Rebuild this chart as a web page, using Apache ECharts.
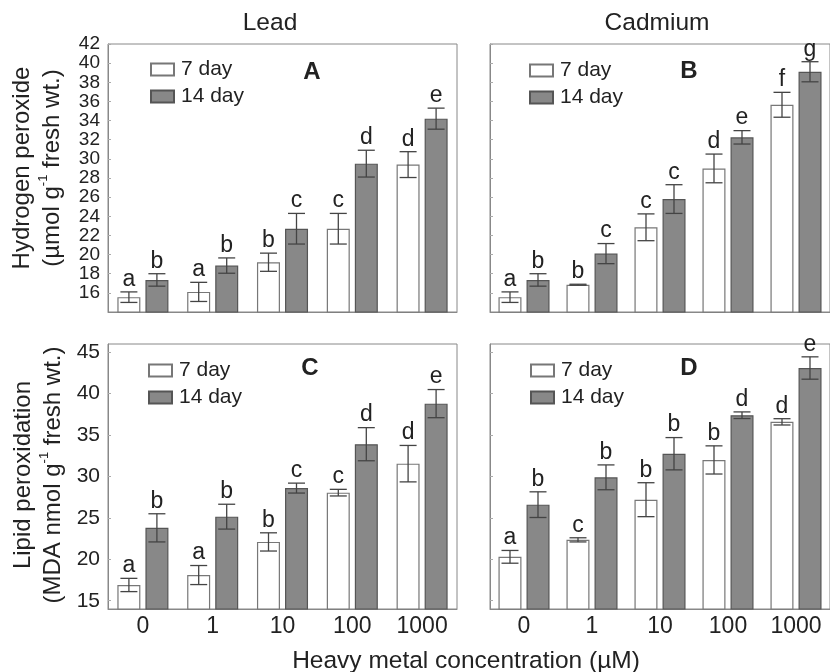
<!DOCTYPE html>
<html>
<head>
<meta charset="utf-8">
<script src="https://cdn.jsdelivr.net/npm/echarts@6/dist/echarts.min.js"></script>
<style>html,body{margin:0;padding:0;background:#fff}#c{width:830px;height:672px}</style>
</head>
<body>
<div id="c"></div>
<script>
// ---- data ----
const categories = ['0', '1', '10', '100', '1000'];

// Panel A: Hydrogen peroxide, Lead
const h2o2LeadDay7 = [15.55, 16.1, 19.2, 22.7, 29.4];
const h2o2LeadDay7Err = [0.55, 1.0, 0.95, 1.6, 1.35];
const h2o2LeadDay7Letters = ['a', 'a', 'b', 'c', 'd'];
const h2o2LeadDay14 = [17.35, 18.85, 22.7, 29.5, 34.2];
const h2o2LeadDay14Err = [0.65, 0.8, 1.6, 1.4, 1.1];
const h2o2LeadDay14Letters = ['b', 'b', 'c', 'd', 'e'];

// Panel B: Hydrogen peroxide, Cadmium
const h2o2CdDay7 = [15.55, 16.85, 22.85, 29.0, 35.65];
const h2o2CdDay7Err = [0.55, 0.05, 1.4, 1.5, 1.3];
const h2o2CdDay7Letters = ['a', 'b', 'c', 'd', 'f'];
const h2o2CdDay14 = [17.35, 20.1, 25.8, 32.25, 39.1];
const h2o2CdDay14Err = [0.65, 1.05, 1.5, 0.7, 1.05];
const h2o2CdDay14Letters = ['b', 'c', 'c', 'e', 'g'];

// Panel C: Lipid peroxidation, Lead
const mdaLeadDay7 = [16.9, 18.1, 22.1, 28.05, 31.55];
const mdaLeadDay7Err = [0.8, 1.15, 1.1, 0.4, 2.2];
const mdaLeadDay7Letters = ['a', 'a', 'b', 'c', 'd'];
const mdaLeadDay14 = [23.8, 25.15, 28.6, 33.9, 38.8];
const mdaLeadDay14Err = [1.7, 1.5, 0.6, 2.0, 1.7];
const mdaLeadDay14Letters = ['b', 'b', 'c', 'd', 'e'];

// Panel D: Lipid peroxidation, Cadmium
const mdaCdDay7 = [20.3, 22.35, 27.2, 32.0, 36.6];
const mdaCdDay7Err = [0.77, 0.25, 2.05, 1.7, 0.38];
const mdaCdDay7Letters = ['a', 'c', 'b', 'b', 'd'];
const mdaCdDay14 = [26.6, 29.9, 32.75, 37.4, 43.1];
const mdaCdDay14Err = [1.55, 1.5, 1.95, 0.4, 1.35];
const mdaCdDay14Letters = ['b', 'b', 'b', 'd', 'e'];

const h2o2Ticks = [16, 18, 20, 22, 24, 26, 28, 30, 32, 34, 36, 38, 40, 42];
const mdaTicks = [15, 20, 25, 30, 35, 40, 45];

// ---- styling ----
const FONT = '"Liberation Sans", Arial, Helvetica, sans-serif';
const TXT = '#222';
const BAR_W = 23;
const OFFSET = 14;

const chart = echarts.init(document.getElementById('c'));

const grids = [
  { left: 108, top: 44, width: 349, height: 268 },
  { left: 490, top: 44, width: 349, height: 268 },
  { left: 108, top: 344, width: 349, height: 265 },
  { left: 490, top: 344, width: 349, height: 265 }
].map(g => Object.assign({ show: true, borderColor: '#888', borderWidth: 1, containLabel: false }, g));

function xAxisFor(i, showLabels) {
  return {
    type: 'category', gridIndex: i, data: categories,
    axisLine: { show: true, lineStyle: { color: '#888' } },
    axisTick: { show: false },
    axisLabel: { show: showLabels, fontSize: 23, color: TXT, fontFamily: FONT, margin: 6 }
  };
}
function yAxisFor(i, min, max, ticks, showLabels, fs) {
  return {
    type: 'value', gridIndex: i, min: min, max: max,
    splitLine: { show: false },
    axisLine: { show: true, lineStyle: { color: '#888' } },
    axisTick: { show: true, inside: true, length: 3, lineStyle: { color: '#aaa' }, customValues: ticks },
    axisLabel: {
      show: showLabels, fontSize: fs, color: TXT, fontFamily: FONT, margin: 8,
      customValues: ticks, showMinLabel: true, showMaxLabel: true, hideOverlap: false
    }
  };
}

function barSeries(name, gi, values, style) {
  return {
    name: name, type: 'bar', xAxisIndex: gi, yAxisIndex: gi, data: values,
    barWidth: BAR_W, barGap: '22%',
    itemStyle: style
  };
}
const white = { color: '#ffffff', borderColor: '#777', borderWidth: 1.2 };
const grey = { color: '#888888', borderColor: '#555', borderWidth: 1.2 };

function errSeries(gi, values, errs, letters, offset) {
  return {
    type: 'custom', xAxisIndex: gi, yAxisIndex: gi, z: 10, silent: true,
    data: values.map((v, i) => [i, v, errs[i]]),
    renderItem: function (params, api) {
      const idx = api.value(0), v = api.value(1), e = api.value(2);
      const hi = api.coord([idx, v + e]);
      const lo = api.coord([idx, v - e]);
      const x = hi[0] + offset;
      const cw = 8.5;
      const ls = { stroke: '#444', lineWidth: 1.3 };
      return {
        type: 'group',
        children: [
          { type: 'line', shape: { x1: x, y1: hi[1], x2: x, y2: lo[1] }, style: ls },
          { type: 'line', shape: { x1: x - cw, y1: hi[1], x2: x + cw, y2: hi[1] }, style: ls },
          { type: 'line', shape: { x1: x - cw, y1: lo[1], x2: x + cw, y2: lo[1] }, style: ls },
          { type: 'text', x: x, y: hi[1] - 1, style: { text: letters[params.dataIndex], align: 'center', verticalAlign: 'bottom', fontSize: 23, fontFamily: FONT, fill: TXT } }
        ]
      };
    }
  };
}

function legendAt(left, top) {
  return {
    left: left, top: top, orient: 'vertical', padding: 0,
    data: ['7 day', '14 day'], icon: 'rect',
    itemWidth: 23, itemHeight: 12, itemGap: 6, selectedMode: false,
    textStyle: { fontSize: 21, color: TXT, fontFamily: FONT, padding: [0, 0, 0, 2] }
  };
}

function rotText(x, y, line1, line2) {
  return {
    type: 'text', x: x, y: y, rotation: Math.PI / 2,
    style: {
      text: '{t|' + line1 + '}\n' + line2,
      align: 'center', verticalAlign: 'middle',
      fill: TXT, fontFamily: FONT, fontSize: 24, lineHeight: 30,
      rich: {
        t: { fontSize: 24, fontFamily: FONT, fill: TXT, lineHeight: 30 },
        s: { fontSize: 13, fontFamily: FONT, fill: TXT, verticalAlign: 'top', lineHeight: 30 }
      }
    }
  };
}
function txt(x, y, s, size, bold) {
  return {
    type: 'text', x: x, y: y,
    style: { text: s, align: 'center', verticalAlign: 'middle', fontSize: size, fontWeight: bold ? 'bold' : 'normal', fontFamily: FONT, fill: TXT }
  };
}

const option = {
  backgroundColor: '#fff',
  animation: false,
  grid: grids,
  xAxis: [xAxisFor(0, false), xAxisFor(1, false), xAxisFor(2, true), xAxisFor(3, true)],
  yAxis: [
    yAxisFor(0, 14, 42, h2o2Ticks, true, 19),
    yAxisFor(1, 14, 42, h2o2Ticks, false, 19),
    yAxisFor(2, 14, 46, mdaTicks, true, 21),
    yAxisFor(3, 14, 46, mdaTicks, false, 21)
  ],
  legend: [legendAt(150, 59), legendAt(529, 60), legendAt(148, 360), legendAt(530, 360)],
  series: [
    barSeries('7 day', 0, h2o2LeadDay7, white),
    barSeries('14 day', 0, h2o2LeadDay14, grey),
    barSeries('7 day', 1, h2o2CdDay7, white),
    barSeries('14 day', 1, h2o2CdDay14, grey),
    barSeries('7 day', 2, mdaLeadDay7, white),
    barSeries('14 day', 2, mdaLeadDay14, grey),
    barSeries('7 day', 3, mdaCdDay7, white),
    barSeries('14 day', 3, mdaCdDay14, grey),
    errSeries(0, h2o2LeadDay7, h2o2LeadDay7Err, h2o2LeadDay7Letters, -OFFSET),
    errSeries(0, h2o2LeadDay14, h2o2LeadDay14Err, h2o2LeadDay14Letters, OFFSET),
    errSeries(1, h2o2CdDay7, h2o2CdDay7Err, h2o2CdDay7Letters, -OFFSET),
    errSeries(1, h2o2CdDay14, h2o2CdDay14Err, h2o2CdDay14Letters, OFFSET),
    errSeries(2, mdaLeadDay7, mdaLeadDay7Err, mdaLeadDay7Letters, -OFFSET),
    errSeries(2, mdaLeadDay14, mdaLeadDay14Err, mdaLeadDay14Letters, OFFSET),
    errSeries(3, mdaCdDay7, mdaCdDay7Err, mdaCdDay7Letters, -OFFSET),
    errSeries(3, mdaCdDay14, mdaCdDay14Err, mdaCdDay14Letters, OFFSET)
  ],
  graphic: [
    txt(270, 23, 'Lead', 24.5, false),
    txt(657, 23, 'Cadmium', 24.5, false),
    txt(466, 661, 'Heavy metal concentration (µM)', 24.5, false),
    txt(312, 72, 'A', 24, true),
    txt(689, 71, 'B', 24, true),
    txt(310, 368, 'C', 24, true),
    txt(689, 368, 'D', 24, true),
    rotText(37, 168, 'Hydrogen peroxide', '{t|(µmol g}{s|-1}{t| fresh wt.)}'),
    rotText(38, 475, 'Lipid peroxidation', '{t|(MDA nmol g}{s|-1}{t| fresh wt.)}')
  ]
};
chart.setOption(option);
</script>
</body>
</html>
